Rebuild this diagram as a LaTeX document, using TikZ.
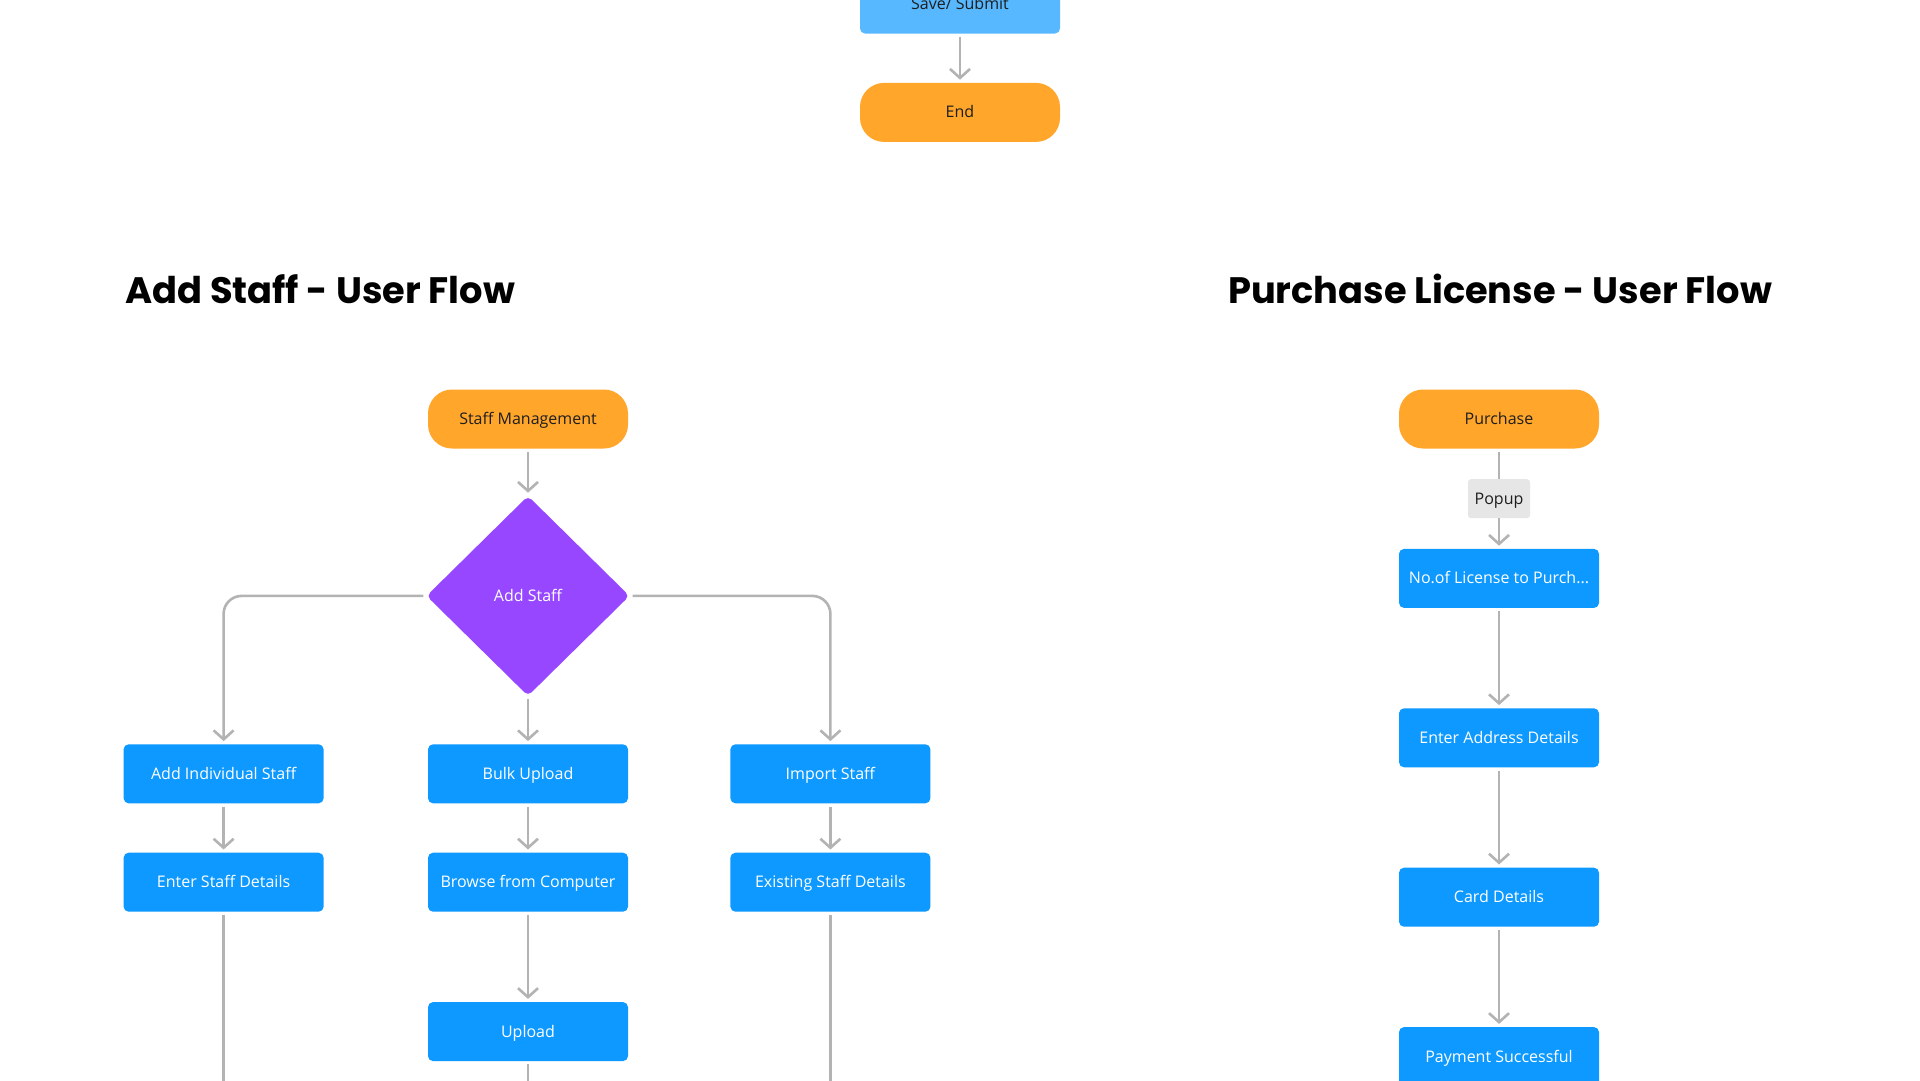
\documentclass[tikz,border=0pt]{standalone}
\usepackage{fontspec}
\setmainfont{Open Sans}
\newfontfamily\titlefont{Poppins}
\usepackage{tikz}
\usetikzlibrary{shapes.geometric, arrows.meta, positioning}
\definecolor{termorange}{HTML}{FFA62B}
\definecolor{stepblue}{HTML}{0D99FF}
\definecolor{saveblue}{HTML}{57B7FF}
\definecolor{decpurple}{HTML}{9747FF}
\definecolor{flowgray}{HTML}{B3B3B3}
\definecolor{popgray}{HTML}{E6E6E6}
\definecolor{darktext}{HTML}{1E1E1E}
\tikzstyle{arrow} = [line width=2.6pt, draw=flowgray, -{Straight Barb[length=9pt,width=20pt]}, shorten <=3pt, shorten >=3pt]
\tikzstyle{link} = [line width=2.6pt, draw=flowgray, shorten <=3pt]

\begin{document}
\begin{tikzpicture}[x=1pt, y=-1pt,
            label text/.style={font=\fontsize{16}{19}\selectfont, text height=12pt, text depth=1pt},
            stepbox/.style={rectangle, rounded corners=5pt, fill=stepblue, text=white, minimum width=200pt, minimum height=59pt, inner sep=0pt, label text},
            term/.style={rectangle, rounded corners=24pt, fill=termorange, text=darktext, minimum width=200pt, minimum height=59pt, inner sep=0pt, label text},
            decision/.style={diamond, rounded corners=5pt, fill=decpurple, text=white, minimum width=203pt, minimum height=200pt, inner sep=0pt, label text},
            popup/.style={rectangle, rounded corners=3pt, fill=popgray, text=darktext, minimum width=62pt, minimum height=39pt, inner sep=2pt, label text},
            title/.style={inner sep=0pt, text=black, font=\titlefont\bfseries\fontsize{36.8}{40}\selectfont}]
            \useasboundingbox[fill=white] (0,0) rectangle (1920,1080);
            \coordinate (bottom) at (0,1082);

            % Tail of the previous flow
            \node[stepbox, fill=saveblue, text=darktext] (save) at (960,4) {Save/ Submit};
            \node[term, below=49pt of save] (done) {End};
            \draw[arrow] (save) -- (done);

            % Titles
            \node[title, anchor=base west] (tStaff) at (125,303) {Add Staff - User Flow};
            \node[title, anchor=base] (tPurchase) at (1500,303) {Purchase License - User Flow};

            % Add Staff flow
            \node[term] (sm) at (528,419) {Staff Management};
            \node[decision, below=47pt of sm] (addstaff) {Add Staff};
            \node[stepbox, below=48pt of addstaff] (bulk) {Bulk Upload};
            \node[stepbox, left=104pt of bulk] (indiv) {Add Individual Staff};
            \node[stepbox, right=102pt of bulk] (import) {Import Staff};
            \node[stepbox, below=49pt of indiv] (details) {Enter Staff Details};
            \node[stepbox, below=49pt of bulk] (browse) {Browse from Computer};
            \node[stepbox, below=49pt of import] (existing) {Existing Staff Details};
            \node[stepbox, below=90pt of browse] (upload) {Upload};

            \draw[arrow] (sm) -- (addstaff);
            \draw[arrow, rounded corners=18pt] (addstaff.west) -| (indiv.north);
            \draw[arrow] (addstaff) -- (bulk);
            \draw[arrow, rounded corners=18pt] (addstaff.east) -| (import.north);
            \draw[arrow] (indiv) -- (details);
            \draw[arrow] (bulk) -- (browse);
            \draw[arrow] (import) -- (existing);
            \draw[arrow] (browse) -- (upload);
            \draw[link] (details.south) -- (details.south |- bottom);
            \draw[link] (upload.south) -- (upload.south |- bottom);
            \draw[link] (existing.south) -- (existing.south |- bottom);

            % Purchase License flow
            \node[term] (purchase) at (1499,419) {Purchase};
            \node[stepbox, below=100pt of purchase] (license) {No.of License to Purch...};
            \node[stepbox, below=100pt of license] (address) {Enter Address Details};
            \node[stepbox, below=100pt of address] (card) {Card Details};
            \node[stepbox, below=100pt of card] (payment) {Payment Successful};

            \draw[arrow] (purchase) -- node[popup] (popup) {Popup} (license);
            \draw[arrow] (license) -- (address);
            \draw[arrow] (address) -- (card);
            \draw[arrow] (card) -- (payment);
\end{tikzpicture}
\end{document}
